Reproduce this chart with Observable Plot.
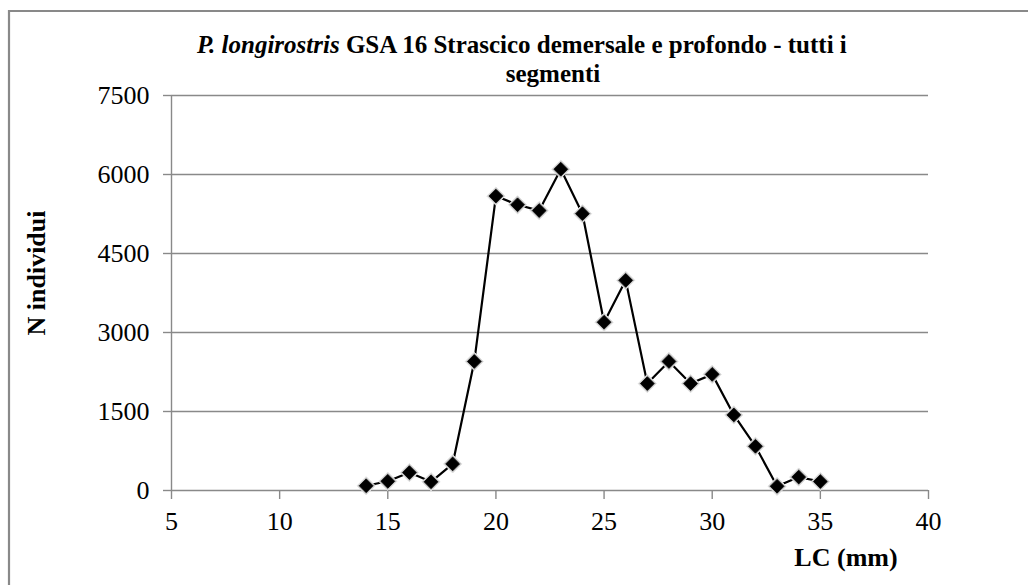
<!DOCTYPE html>
<html>
<head>
<meta charset="utf-8">
<script src="https://cdn.jsdelivr.net/npm/d3@7"></script>
<script src="https://cdn.jsdelivr.net/npm/@observablehq/plot@0.6"></script>
<style>
  html, body { margin: 0; padding: 0; background: white; }
  #chart { position: relative; width: 1028px; height: 585px; overflow: hidden; }
</style>
</head>
<body>
<div id="chart"></div>
<script>
const lengths = [14, 15, 16, 17, 18, 19, 20, 21, 22, 23, 24, 25, 26, 27, 28, 29, 30, 31, 32, 33, 34, 35];
const counts  = [90, 175, 340, 165, 505, 2450, 5590, 5425, 5315, 6100, 5255, 3195, 3990, 2030, 2450, 2030, 2205, 1435, 840, 80, 255, 170];
const xTicks = [5, 10, 15, 20, 25, 30, 35, 40];
const yTicks = [0, 1500, 3000, 4500, 6000, 7500];
const titleItalic = "P. longirostris";
const titleRest = " GSA 16 Strascico demersale e profondo - tutti i";
const titleLine2 = "segmenti";
const yLabel = "N individui";
const xLabel = "LC (mm)";

const data = lengths.map((l, i) => ({ l, n: counts[i] }));
const gray = "#898989";
const font = "'Liberation Serif', 'Times New Roman', serif";

const plot = Plot.plot({
  width: 1028,
  height: 585,
  marginLeft: 171,
  marginRight: 100,
  marginTop: 95,
  marginBottom: 95,
  style: { fontFamily: font, fontSize: "26px", background: "transparent", color: "black" },
  x: { domain: [5, 40] },
  y: { domain: [0, 7500] },
  marks: [
    Plot.gridY(yTicks, { stroke: gray, strokeOpacity: 1, strokeWidth: 1.4 }),
    Plot.ruleX([5], { stroke: gray, strokeWidth: 1.4 }),
    Plot.axisY(yTicks, { tickSize: 8, tickPadding: 14, stroke: gray, strokeWidth: 1.4, fill: "black", fontSize: 26, label: null, tickFormat: d => String(d) }),
    Plot.axisX(xTicks, { tickSize: 9, tickPadding: 12, stroke: gray, strokeWidth: 1.4, fill: "black", fontSize: 26, label: null, tickFormat: d => String(d) }),
    Plot.line(data, { x: "l", y: "n", stroke: "black", strokeWidth: 2.2 }),
    Plot.dot(data, { x: "l", y: "n", symbol: "diamond2", r: 8.2, fill: "#c4c4c4", stroke: "#e2e2e2", strokeWidth: 1 }),
    Plot.dot(data, { x: "l", y: "n", symbol: "diamond2", r: 6.2, fill: "black", stroke: "black", strokeWidth: 0.8 })
  ]
});

plot.style.position = "absolute";
plot.style.left = "0px";
plot.style.top = "0px";
document.getElementById("chart").appendChild(plot);

const svg = d3.select(plot);
// outer chart border (top and left visible in the frame)
svg.append("path")
  .attr("d", "M9,1100V11H1100")
  .attr("fill", "none")
  .attr("stroke", gray)
  .attr("stroke-width", 2.2);

const t1 = svg.append("text")
  .attr("x", 197).attr("y", 53)
  .attr("text-anchor", "start")
  .attr("font-family", font).attr("font-size", 25).attr("font-weight", "bold")
  .attr("fill", "black");
t1.append("tspan").attr("font-style", "italic").text(titleItalic);
t1.append("tspan").text(titleRest);

svg.append("text")
  .attr("x", 553).attr("y", 82)
  .attr("text-anchor", "middle")
  .attr("font-family", font).attr("font-size", 25).attr("font-weight", "bold")
  .attr("fill", "black")
  .text(titleLine2);

svg.append("text")
  .attr("transform", "translate(45,273) rotate(-90)")
  .attr("text-anchor", "middle")
  .attr("font-family", font).attr("font-size", 26).attr("font-weight", "bold")
  .attr("fill", "black")
  .text(yLabel);

svg.append("text")
  .attr("x", 846).attr("y", 566)
  .attr("text-anchor", "middle")
  .attr("font-family", font).attr("font-size", 26).attr("font-weight", "bold")
  .attr("fill", "black")
  .text(xLabel);
</script>
</body>
</html>
